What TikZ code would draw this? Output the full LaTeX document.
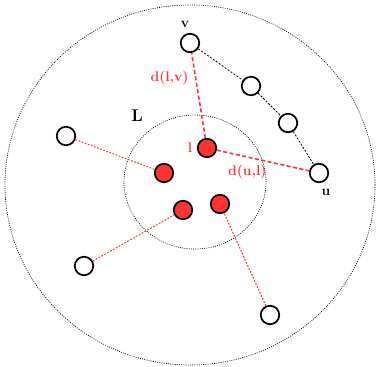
\documentclass[tikz,border=0pt]{standalone}
\usepackage{tikz}
\usetikzlibrary{positioning}
\definecolor{linkred}{RGB}{255,51,51}

\begin{document}
\begin{tikzpicture}[
    x=1pt, y=-1pt,
    every node/.style={font=\fontsize{14}{16}\selectfont\bfseries},
    landmark/.style={circle, draw=black, line width=1.7pt, fill=linkred, minimum size=18.5pt, inner sep=0pt},
    vertex/.style={circle, draw=black, line width=1.7pt, fill=white, minimum size=18.5pt, inner sep=0pt},
    ringline/.style={black, line width=0.7pt, dash pattern=on 0.9pt off 1.3pt},
    pathedge/.style={black, line width=0.8pt, dash pattern=on 2pt off 1.6pt},
    estedge/.style={linkred, line width=1.6pt, dash pattern=on 4pt off 2.5pt},
    assignedge/.style={linkred, line width=1pt, dash pattern=on 1.8pt off 1.5pt}
]
\useasboundingbox (0,0) rectangle (376,367);

% Outer region and landmark set
\draw[ringline] (190,185) ellipse [x radius=185pt, y radius=180pt];
\draw[ringline] (195,182) ellipse [x radius=71pt, y radius=67pt];
\node[font=\fontsize{17}{19}\selectfont\bfseries] (setL) at (137,116) {L};

% Landmarks
\node[landmark, label={[text=linkred, label distance=1pt]left:l}] (l) at (207,148) {};
\node[landmark] (lA) at (164,173) {};
\node[landmark] (lB) at (183,210) {};
\node[landmark] (lC) at (220,204) {};

% Ordinary vertices
\node[vertex, label={[label distance=1.5pt, xshift=-5pt]above:v}] (v) at (190,43) {};
\node[vertex] (p1) at (251,86) {};
\node[vertex] (p2) at (288,123) {};
\node[vertex, label={[label distance=2.5pt, xshift=7pt]below:u}] (u) at (319,173) {};
\node[vertex] (wA) at (66,136) {};
\node[vertex] (wB) at (84,266) {};
\node[vertex] (wC) at (270,315) {};

% Shortest path from v to u
\draw[pathedge] (v) -- (p1) -- (p2) -- (u);

% Landmark distances
\draw[estedge] (l) -- node[pos=0.7, left=3pt, text=linkred] {d(l,v)} (v);
\draw[estedge] (l) -- node[pos=0.33, below=4pt, text=linkred] {d(u,l)} (u);

% Assignment to nearest landmark
\draw[assignedge] (wA) -- (lA);
\draw[assignedge] (wB) -- (lB);
\draw[assignedge] (wC) -- (lC);
\end{tikzpicture}
\end{document}
